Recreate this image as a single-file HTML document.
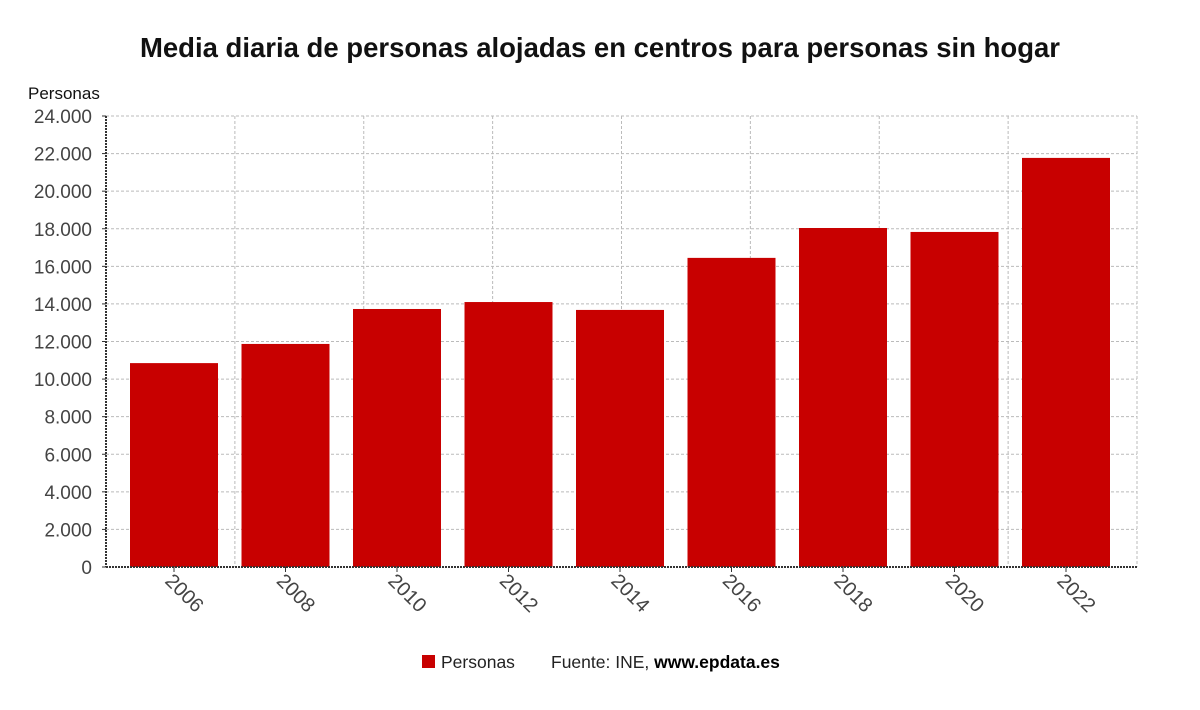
<!DOCTYPE html>
<html><head><meta charset="utf-8"><style>
body{margin:0;background:#fff;font-family:"Liberation Sans",sans-serif}
</style></head><body>
<svg width="1200" height="705" viewBox="0 0 1200 705">
<text x="600" y="57" text-anchor="middle" font-size="27.5" font-weight="bold" fill="#111">Media diaria de personas alojadas en centros para personas sin hogar</text>
<text x="28" y="99" font-size="17" fill="#111">Personas</text>
<g id="grid"></g>
<g id="bars"></g>
<g id="axes"></g>
<g>
<rect x="422" y="655" width="13" height="13" fill="#c80000"/>
<text x="441" y="668" font-size="17.5" fill="#222">Personas</text>
<text x="551" y="668" font-size="17.5" fill="#222">Fuente: INE, <tspan fill="#000" font-weight="bold">www.epdata.es</tspan></text>
</g>
</svg>
<script>
const categories=["2006","2008","2010","2012","2014","2016","2018","2020","2022"];
const values=[10850,11870,13730,14100,13680,16450,18040,17830,21770];
const yTicks=[0,2000,4000,6000,8000,10000,12000,14000,16000,18000,20000,22000,24000];
const tickLabels=["0","2.000","4.000","6.000","8.000","10.000","12.000","14.000","16.000","18.000","20.000","22.000","24.000"];
const X0=106,X1=1137,Y0=567,Y1=116,YMAX=24000;
const ns="http://www.w3.org/2000/svg";
function y(v){return Y0-(v/YMAX)*(Y0-Y1);}
function xc(i){return 174+i*(1066-174)/(categories.length-1);}
function mk(t,a,p){const e=document.createElementNS(ns,t);for(const k in a)e.setAttribute(k,a[k]);p.appendChild(e);return e;}
const grid=document.getElementById('grid'),bars=document.getElementById('bars'),axes=document.getElementById('axes');
yTicks.forEach((v,i)=>{
 if(v>0){const l=mk('line',{x1:X0,x2:X1,y1:y(v),y2:y(v),stroke:'#bbb','stroke-dasharray':'3,2'},grid);
 
 }
 const t=mk('text',{x:92,y:y(v)+7,'text-anchor':'end','font-size':'19',fill:'#444'},axes);
 t.textContent=tickLabels[i];
 
 
 mk('line',{x1:X0-4,x2:X0,y1:y(v),y2:y(v),stroke:'#333'},axes);
});
for(let k=1;k<=8;k++){const gx=X0+k*(X1-X0)/8;
 const l=mk('line',{x1:gx,x2:gx,y1:Y1,y2:Y0,stroke:'#bbb','stroke-dasharray':'3,2'},grid);
 
 }
const bw=88;
values.forEach((v,i)=>{
 const r=mk('rect',{x:xc(i)-bw/2,y:y(v),width:bw,height:Y0-y(v),fill:'#c80000'},bars);
 
 
 mk('line',{x1:xc(i),x2:xc(i),y1:Y0,y2:Y0+5,stroke:'#333'},axes);
 const t=mk('text',{x:0,y:0,'font-size':'20',fill:'#444',transform:`translate(${xc(i)-10},${Y0+15}) rotate(45)`},axes);
 t.textContent=categories[i];
 
 
});
const ya=mk('line',{x1:X0,x2:X0,y1:Y1,y2:Y0,stroke:'#333','stroke-width':2,'stroke-dasharray':'2,1'},axes);


const xa=mk('line',{x1:X0,x2:X1,y1:Y0,y2:Y0,stroke:'#333','stroke-width':2,'stroke-dasharray':'2,1'},axes);


</script>
</body></html>
